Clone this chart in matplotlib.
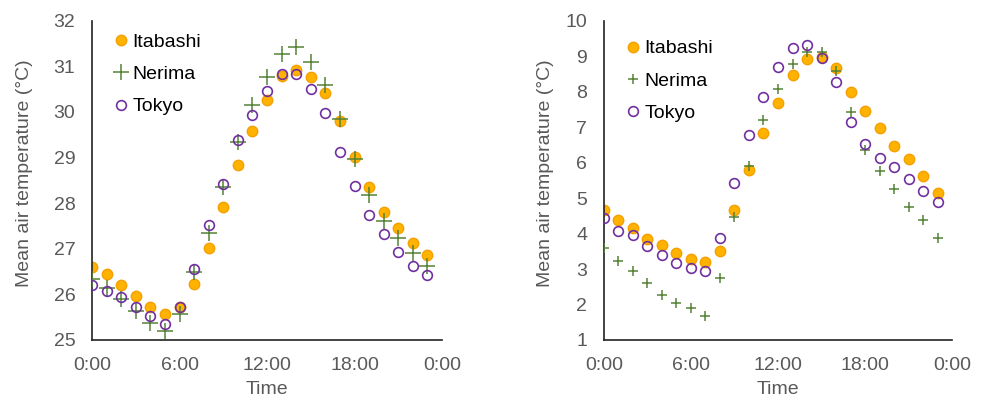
import numpy as np
import matplotlib.pyplot as plt

plt.rcParams['font.family'] = ['Liberation Sans', 'DejaVu Sans']

hours = np.arange(24)
tick_hours = [0, 6, 12, 18, 24]
tick_labels = ['0:00', '6:00', '12:00', '18:00', '0:00']

# left panel (summer)
ita_a = [26.59, 26.45, 26.21, 25.97, 25.73, 25.57, 25.72, 26.22, 27.02, 27.91,
         28.84, 29.59, 30.26, 30.79, 30.92, 30.76, 30.41, 29.81, 29.02, 28.36,
         27.81, 27.45, 27.13, 26.86]
ner_a = [26.33, 26.15, 25.91, 25.64, 25.38, 25.20, 25.57, 26.50, 27.34, 28.36,
         29.35, 30.15, 30.76, 31.27, 31.42, 31.10, 30.59, 29.84, 28.98, 28.18,
         27.62, 27.23, 26.91, 26.62]
tok_a = [26.20, 26.08, 25.94, 25.72, 25.53, 25.36, 25.72, 26.56, 27.52, 28.42,
         29.38, 29.94, 30.45, 30.84, 30.84, 30.50, 29.98, 29.12, 28.38, 27.75,
         27.33, 26.94, 26.63, 26.42]

# right panel (winter)
ita_b = [4.66, 4.38, 4.17, 3.84, 3.68, 3.45, 3.27, 3.21, 3.51, 4.66,
         5.79, 6.83, 7.68, 8.47, 8.91, 8.97, 8.67, 7.98, 7.46, 6.99,
         6.48, 6.10, 5.62, 5.15]
ner_b = [3.60, 3.24, 2.95, 2.60, 2.26, 2.04, 1.89, 1.69, 2.74, 4.48,
         5.91, 7.19, 8.07, 8.79, 9.13, 9.11, 8.59, 7.42, 6.37, 5.77,
         5.26, 4.76, 4.37, 3.89]
tok_b = [4.45, 4.07, 3.95, 3.65, 3.40, 3.16, 3.04, 2.95, 3.89, 5.44,
         6.79, 7.86, 8.69, 9.24, 9.32, 8.95, 8.27, 7.16, 6.52, 6.13,
         5.87, 5.54, 5.21, 4.89]

c_ita = '#FFB300'
c_ita_edge = '#F5A000'
c_ner = '#548235'
c_tok = '#7030A0'
grey = '#595959'
fs = 14

fig = plt.figure(figsize=(9.84, 4.0), dpi=100)
ax1 = fig.add_axes([0.0935, 0.15, 0.3557, 0.798])
ax2 = fig.add_axes([0.6138, 0.15, 0.3537, 0.798])


def draw(ax, ita, ner, tok, ylim, plus_size, leg_anchor):
    ax.plot(hours, ita, 'o', ms=7.5, mfc=c_ita, mec=c_ita_edge, mew=1,
            label='Itabashi', zorder=2)
    ax.plot(hours, ner, '+', ms=plus_size, color=c_ner, mew=1.1,
            label='Nerima', zorder=3)
    ax.plot(hours, tok, 'o', ms=7, mfc='none', mec=c_tok, mew=1.2,
            label='Tokyo', zorder=4)
    ax.set_xlim(0, 24)
    ax.set_ylim(*ylim)
    ax.set_xticks(tick_hours)
    ax.set_xticklabels(tick_labels)
    ax.set_yticks(np.arange(ylim[0], ylim[1] + 1))
    for s in ['top', 'right']:
        ax.spines[s].set_visible(False)
    for s in ['left', 'bottom']:
        ax.spines[s].set_color('#222222')
        ax.spines[s].set_linewidth(1.2)
    ax.tick_params(axis='x', length=0, labelsize=fs, labelcolor=grey, pad=12)
    ax.tick_params(axis='y', length=0, labelsize=fs, labelcolor=grey, pad=12)
    ax.set_xlabel('Time', fontsize=fs, color=grey, labelpad=5)
    ax.set_ylabel('Mean air temperature (°C)', fontsize=fs, color=grey)
    leg = ax.legend(loc='upper left', bbox_to_anchor=leg_anchor, frameon=False,
                    fontsize=fs, handletextpad=0.05, handlelength=1.1,
                    labelspacing=0.75, borderaxespad=0)
    return leg


draw(ax1, ita_a, ner_a, tok_a, (25, 32), 11, (0.03, 0.985))
draw(ax2, ita_b, ner_b, tok_b, (1, 10), 7, (0.03, 0.965))
ax1.yaxis.set_label_coords(-0.169, 0.523)
ax2.yaxis.set_label_coords(-0.143, 0.523)

fig.savefig('out.png', dpi=100)
